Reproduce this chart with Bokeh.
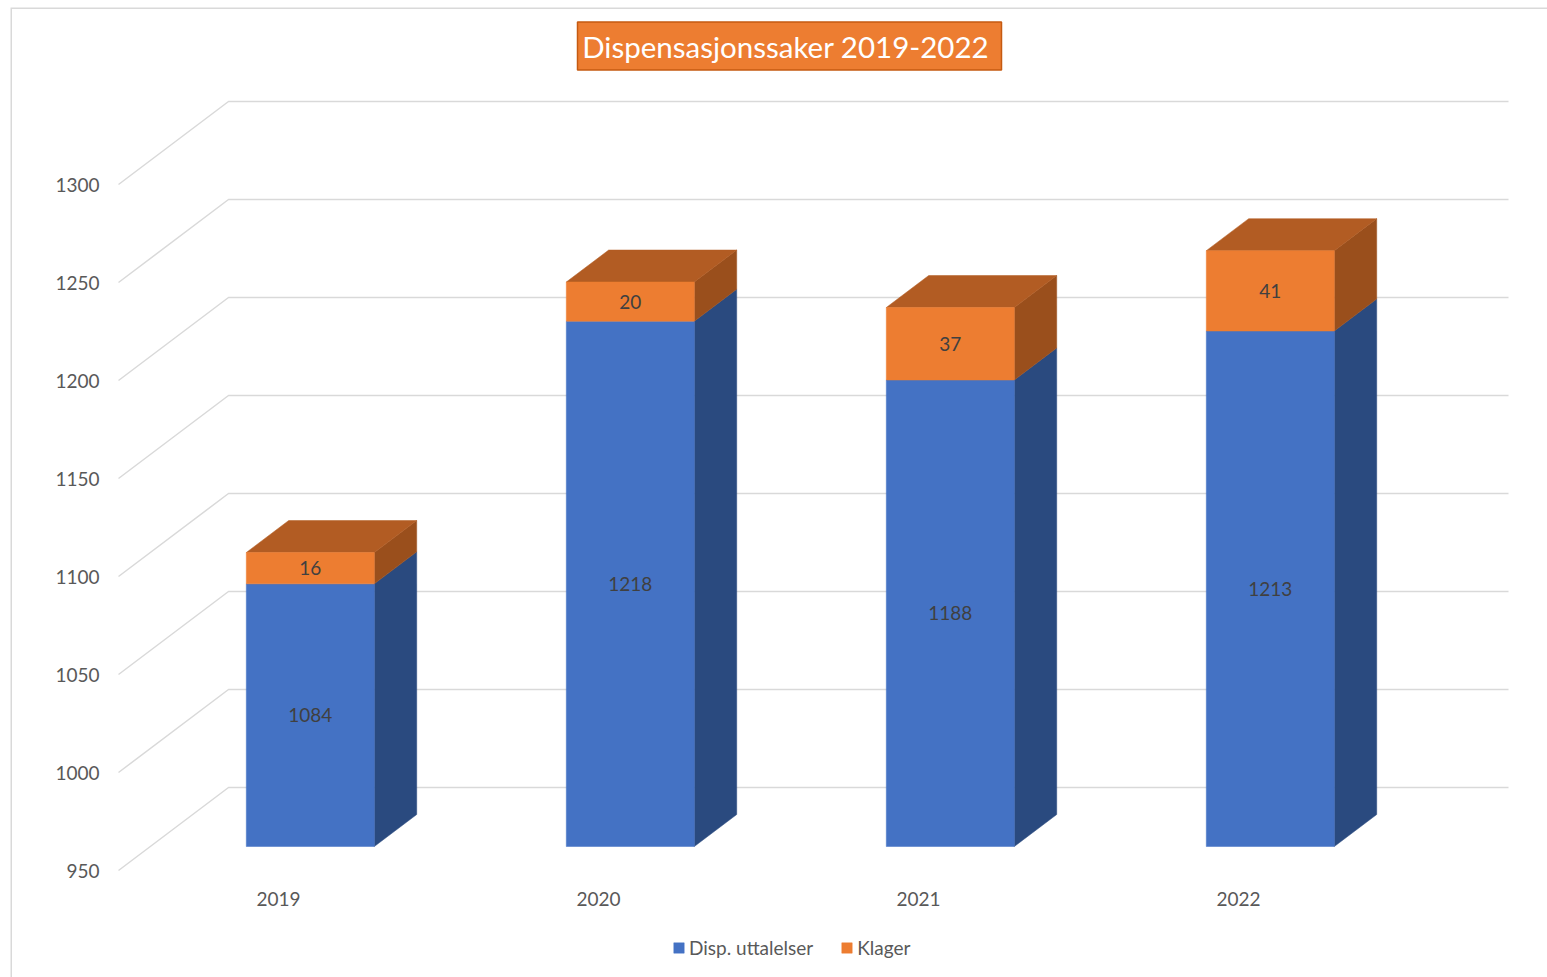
import numpy as np
from bokeh.plotting import figure
from bokeh.models import ColumnDataSource, Range1d
from bokeh.core.properties import value
from bokeh.embed import file_html
from bokeh.resources import INLINE

# ---------------- data ----------------
years = ["2019", "2020", "2021", "2022"]
disp = [1084, 1218, 1188, 1213]
klager = [16, 20, 37, 41]
y_ticks = [950, 1000, 1050, 1100, 1150, 1200, 1250, 1300]
title_text = "Dispensasjonssaker  2019-2022"
series_names = ["Disp. uttalelser", "Klager"]

# ---------------- layout constants ----------------
W, H = 1547, 977
BORDER_L, BORDER_T = 10, 7
FRAME_W = W - BORDER_L
FRAME_H = H - BORDER_T
ORIGIN_X = 108          # frame px of front-left corner of the category axis
ORIGIN_Y = 863          # frame px (from top) of the base value on front plane
CAT_PX = 320            # px per category
PPU = 1.96              # px per value unit
DEPTH_PX = (110, 83)    # oblique offset of the back wall
F_FRONT = 24 / 83       # bar front depth fraction
F_BACK = 56 / 83        # bar back depth fraction
BAR_W = 128 / CAT_PX

FONT = value("Lato")
BLUE, BLUE_SIDE = "#4472C4", "#2A4A7F"
ORANGE, ORANGE_TOP, ORANGE_SIDE = "#ED7D31", "#B25C23", "#9A4F1C"
GRID = "#D9D9D9"
TXT = "#595959"
LBL = "#404040"

base = y_ticks[0]
x_start = -ORIGIN_X / CAT_PX
x_end = (FRAME_W - ORIGIN_X) / CAT_PX
y_start = base - (FRAME_H - ORIGIN_Y) / PPU
y_end = base + ORIGIN_Y / PPU

DX = DEPTH_PX[0] / CAT_PX
DY = DEPTH_PX[1] / PPU


def px_to_data(ix, iy):
    """page pixel -> data coordinates"""
    fx = ix - BORDER_L
    fy = iy - BORDER_T
    return x_start + fx / CAT_PX, y_end - fy / PPU


p = figure(width=W, height=H, output_backend="svg", toolbar_location=None,
           x_range=Range1d(x_start, x_end), y_range=Range1d(y_start, y_end),
           x_axis_location=None, y_axis_location=None,
           min_border_left=BORDER_L, min_border_right=0,
           min_border_top=BORDER_T, min_border_bottom=0)
p.xgrid.visible = False
p.ygrid.visible = False
p.outline_line_color = None
p.background_fill_color = "white"
p.border_fill_color = "white"

# chart border (top and left edges only are visible in the reference)
p.line(x=[x_start, x_start, x_end], y=[y_start, y_end, y_end],
       line_color=GRID, line_width=3)

n = len(years)

# ---------------- walls / gridlines ----------------
wall_xs, wall_ys = [], []
for t in y_ticks:
    wall_xs.append([0, DX, n + DX])
    wall_ys.append([t, t + DY, t + DY])
p.multi_line(xs=wall_xs, ys=wall_ys, line_color=GRID, line_width=1.5)

# y tick labels
p.text(x=[0] * len(y_ticks), y=y_ticks, text=[str(t) for t in y_ticks],
       text_font=FONT, text_font_size="19px", text_color=TXT,
       text_align="right", text_baseline="middle", x_offset=-19)

# x labels
p.text(x=[i + 0.5 for i in range(n)], y=[base] * n, text=years,
       text_font=FONT, text_font_size="19px", text_color=TXT,
       text_align="center", text_baseline="middle", y_offset=28)

# ---------------- bars ----------------
disp_a = np.array(disp, dtype=float)
kl_a = np.array(klager, dtype=float)
xc = np.arange(n) + 0.5 + DX * F_FRONT
left = xc - BAR_W / 2
right = xc + BAR_W / 2
oy = DY * F_FRONT
b_bot = np.full(n, base + oy)
b_top = disp_a + oy
o_top = disp_a + kl_a + oy
ddx = DX * (F_BACK - F_FRONT)
ddy = DY * (F_BACK - F_FRONT)


def side(bot, top):
    xs = [[r, r + ddx, r + ddx, r] for r in right]
    ys = [[b, b + ddy, t + ddy, t] for b, t in zip(bot, top)]
    return xs, ys


xs, ys = side(b_bot, b_top)
p.patches(xs, ys, fill_color=BLUE_SIDE, line_color=BLUE_SIDE, line_width=0.5)
xs, ys = side(b_top, o_top)
p.patches(xs, ys, fill_color=ORANGE_SIDE, line_color=ORANGE_SIDE, line_width=0.5)

top_xs = [[l, r, r + ddx, l + ddx] for l, r in zip(left, right)]
top_ys = [[t, t, t + ddy, t + ddy] for t in o_top]
p.patches(top_xs, top_ys, fill_color=ORANGE_TOP, line_color=ORANGE_TOP, line_width=0.5)

src = ColumnDataSource(dict(left=left, right=right, b_bot=b_bot, b_top=b_top,
                            o_top=o_top, xc=xc,
                            b_mid=(b_bot + b_top) / 2, o_mid=(b_top + o_top) / 2,
                            b_lab=[str(v) for v in disp],
                            o_lab=[str(v) for v in klager]))
p.quad(left="left", right="right", bottom="b_bot", top="b_top", source=src,
       fill_color=BLUE, line_color=BLUE, line_width=0.5,
       legend_label=series_names[0])
p.quad(left="left", right="right", bottom="b_top", top="o_top", source=src,
       fill_color=ORANGE, line_color=ORANGE, line_width=0.5,
       legend_label=series_names[1])

p.text(x="xc", y="b_mid", text="b_lab", source=src, text_font=FONT,
       text_font_size="19px", text_color=LBL, text_align="center",
       text_baseline="middle")
p.text(x="xc", y="o_mid", text="o_lab", source=src, text_font=FONT,
       text_font_size="19px", text_color=LBL, text_align="center",
       text_baseline="middle")

# ---------------- title ----------------
tx, ty = px_to_data(789, 45.5)
p.rect(x=[tx], y=[ty], width=424, height=48, width_units="screen",
       height_units="screen", fill_color=ORANGE, line_color="#C55A11",
       line_width=1.5)
p.text(x=[tx], y=[ty], text=[title_text], text_font=FONT,
       text_font_size="29.5px", text_color="white", text_align="center",
       text_baseline="middle")

# ---------------- legend ----------------
lg = p.legend[0]
lg.orientation = "horizontal"
lg.location = (662, 18)
lg.border_line_alpha = 0
lg.background_fill_alpha = 0
lg.glyph_width = 13
lg.glyph_height = 13
lg.label_text_font = "Lato"
lg.label_text_font_size = "19px"
lg.label_text_color = TXT
lg.label_standoff = 4
lg.spacing = 27
lg.padding = 0
lg.margin = 0

open("out.html", "w").write(file_html(p, INLINE))
